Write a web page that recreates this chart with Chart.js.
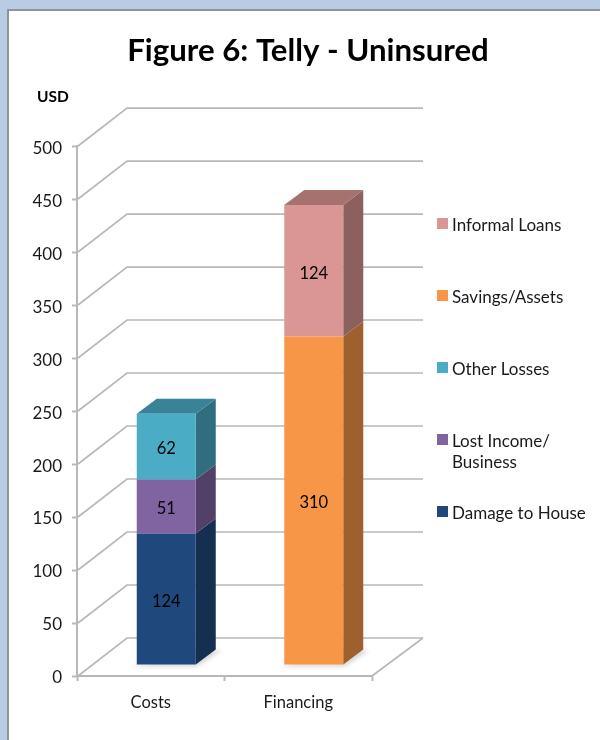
<!DOCTYPE html>
<html>
<head>
<meta charset="utf-8">
<style>
html,body{margin:0;padding:0;width:600px;height:740px;overflow:hidden;background:#b8cce4;}
#panel{position:absolute;left:7px;top:9px;width:700px;height:800px;background:#fff;border:2px solid #8f9499;box-sizing:border-box;}
#wrap{position:absolute;left:0;top:0;width:600px;height:740px;}
canvas{filter:blur(0.45px);}
</style>
<script src="https://cdn.jsdelivr.net/npm/chart.js@4"></script>
</head>
<body>
<div id="panel"></div>
<div id="wrap"><canvas id="c" width="600" height="740"></canvas></div>
<script>
const categories = ['Costs', 'Financing'];
const damageToHouse = [124, null];
const lostIncome = [51, null];
const otherLosses = [62, null];
const savingsAssets = [null, 310];
const informalLoans = [null, 124];
const yTickStep = 50;
const yMax = 500;
const chartTitle = 'Figure 6: Telly - Uninsured';
const unitLabel = 'USD';

const FONT = 'Lato, Carlito, sans-serif';
const TEXT = '#1a1a1a';
const GRID = '#b8b8b8';
const WALL_DX = 50, WALL_DY = 38;
const BAR_SHIFT_X = 15.5, BAR_SHIFT_Y = -11;
const BAR_DX = 20, BAR_DY = 15;

const seriesDefs = [
  {label:'Damage to House', lines:['Damage to House'], data:damageToHouse, color:[31,73,125], legendY:512},
  {label:'Lost Income/ Business', lines:['Lost Income/','Business'], data:lostIncome, color:[128,100,162], legendY:440},
  {label:'Other Losses', lines:['Other Losses'], data:otherLosses, color:[75,172,198], legendY:368},
  {label:'Savings/Assets', lines:['Savings/Assets'], data:savingsAssets, color:[247,150,70], legendY:296},
  {label:'Informal Loans', lines:['Informal Loans'], data:informalLoans, color:[217,150,148], legendY:224},
];
const rgb = (c, k=1) => `rgb(${c.map(v => Math.round(v*k)).join(',')})`;

const threeD = {
  id: 'threeD',
  afterLayout(chart) {
    chart.titleBlock.left = 16;
    chart.titleBlock.right = 600;
  },
  beforeDraw(chart) {
    // nudge cached tick labels so the font's optical middle sits on the tick
    const {x, y} = chart.scales;
    y.getLabelItems(chart.chartArea).forEach(it => {
      if (!it._nudged) { it.options.translation[1] += 2; it._nudged = true; }
    });
    x.getLabelItems(chart.chartArea).forEach(it => {
      if (!it._nudged) { it.options.translation[1] += 1; it._nudged = true; }
    });
  },
  beforeDatasetsDraw(chart) {
    const {ctx, chartArea:a, scales:{y}} = chart;
    ctx.save();
    // back wall and floor
    ctx.strokeStyle = GRID; ctx.lineWidth = 1.7;
    y.ticks.forEach(t => {
      const py = y.getPixelForValue(t.value);
      ctx.beginPath();
      ctx.moveTo(a.left + 1, py);
      ctx.lineTo(a.left + WALL_DX, py - WALL_DY);
      ctx.lineTo(a.right + WALL_DX + 1, py - WALL_DY);
      ctx.stroke();
    });
    ctx.beginPath();
    ctx.moveTo(a.right, a.bottom);
    ctx.lineTo(a.right + WALL_DX + 1, a.bottom - WALL_DY);
    ctx.stroke();
    ctx.translate(BAR_SHIFT_X, BAR_SHIFT_Y);
    // 3D faces
    categories.forEach((_, i) => {
      let topBar = null, topColor = null, first = null;
      chart.data.datasets.forEach((ds, d) => {
        if (ds.data[i] == null) return;
        const bar = chart.getDatasetMeta(d).data[i];
        if (!first) first = bar;
        topBar = bar; topColor = seriesDefs[d].color;
      });
      // soft floor shadow
      const L = first.x - first.width/2, R = first.x + first.width/2, B = first.base;
      ctx.save();
      ctx.filter = 'blur(2px)';
      ctx.fillStyle = 'rgba(0,0,0,.16)';
      ctx.beginPath();
      ctx.moveTo(L-5, B+2); ctx.lineTo(R+1, B+2); ctx.lineTo(R+BAR_DX+6, B-BAR_DY+1); ctx.lineTo(R, B-BAR_DY);
      ctx.closePath(); ctx.fill();
      ctx.restore();
      chart.data.datasets.forEach((ds, d) => {
        if (ds.data[i] == null) return;
        const bar = chart.getDatasetMeta(d).data[i];
        const r = bar.x + bar.width/2;
        ctx.fillStyle = rgb(seriesDefs[d].color, 0.64);
        ctx.beginPath();
        ctx.moveTo(r, bar.base); ctx.lineTo(r+BAR_DX, bar.base-BAR_DY);
        ctx.lineTo(r+BAR_DX, bar.y-BAR_DY); ctx.lineTo(r, bar.y);
        ctx.closePath(); ctx.fill();
      });
      const l = topBar.x - topBar.width/2, r = topBar.x + topBar.width/2;
      ctx.fillStyle = rgb(topColor, 0.76);
      ctx.beginPath();
      ctx.moveTo(l, topBar.y); ctx.lineTo(l+BAR_DX, topBar.y-BAR_DY);
      ctx.lineTo(r+BAR_DX, topBar.y-BAR_DY); ctx.lineTo(r, topBar.y);
      ctx.closePath(); ctx.fill();
    });
  },
  afterDatasetsDraw(chart) {
    const {ctx} = chart;
    // value labels on the bars (still in the shifted space)
    ctx.font = `16.5px ${FONT}`; ctx.fillStyle = '#000';
    ctx.textAlign = 'center'; ctx.textBaseline = 'middle';
    chart.data.datasets.forEach((ds, d) => {
      ds.data.forEach((v, i) => {
        if (v == null) return;
        const bar = chart.getDatasetMeta(d).data[i];
        ctx.fillText(String(v), bar.x, (bar.y + bar.base)/2 + 2.5);
      });
    });
    ctx.restore();
    // unit label
    ctx.font = `bold 15.5px ${FONT}`; ctx.fillStyle = '#000';
    ctx.textAlign = 'left'; ctx.textBaseline = 'middle';
    ctx.fillText(unitLabel, 37, 97);
    // legend
    seriesDefs.forEach(s => {
      ctx.fillStyle = rgb(s.color);
      ctx.fillRect(437, s.legendY - 6, 11, 11);
      ctx.fillStyle = TEXT; ctx.font = `17px ${FONT}`;
      s.lines.forEach((ln, k) => ctx.fillText(ln, 452, s.legendY + 2 + k*21));
    });
  }
};

new Chart(document.getElementById('c'), {
  type: 'bar',
  data: {
    labels: categories,
    datasets: seriesDefs.map(s => ({
      label: s.label, data: s.data, backgroundColor: rgb(s.color), borderWidth: 0,
      barPercentage: 0.4, categoryPercentage: 1
    }))
  },
  plugins: [threeD],
  options: {
    responsive: false, animation: false,
    layout: {padding: {left: 0, right: 228, top: 0, bottom: 0}},
    plugins: {
      legend: {display: false},
      tooltip: {enabled: false},
      title: {display: true, text: chartTitle, color: '#000',
        font: {family: FONT, size: 31.2, weight: 'bold', lineHeight: 1.2},
        padding: {top: 32, bottom: 76.6}}
    },
    scales: {
      x: {
        stacked: true,
        afterFit(s) { s.height = 64; },
        border: {color: GRID, width: 2},
        grid: {drawOnChartArea: false, drawTicks: true, tickLength: 5, tickColor: GRID, tickWidth: 2},
        ticks: {color: TEXT, padding: 11, maxRotation: 0, font: {family: FONT, size: 16.5}}
      },
      y: {
        stacked: true, min: 0, max: yMax,
        afterFit(s) { s.width = 77; },
        border: {color: GRID, width: 2},
        grid: {drawOnChartArea: false, drawTicks: true, tickLength: 5, tickColor: GRID, tickWidth: 2},
        ticks: {stepSize: yTickStep, color: TEXT, padding: 10, font: {family: FONT, size: 17}}
      }
    }
  }
});
</script>
</body>
</html>
